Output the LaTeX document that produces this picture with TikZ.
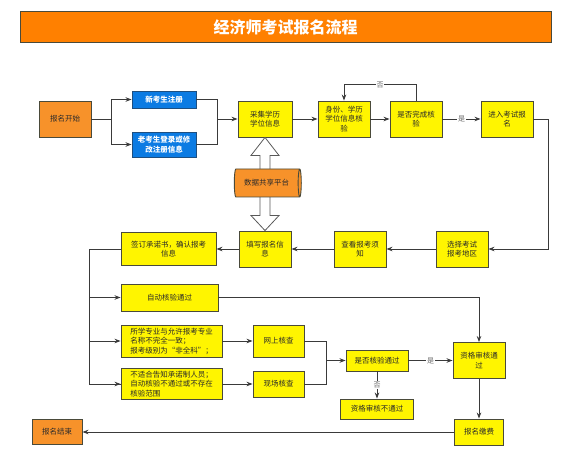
\documentclass[tikz,border=0pt]{standalone}
\usepackage{fontspec}
\newfontfamily\cjk{Noto Sans CJK SC}
\usetikzlibrary{arrows.meta,shapes.geometric,calc}
\definecolor{boxyellow}{HTML}{FFF500}
\definecolor{bordercol}{HTML}{4A4A3A}
\definecolor{orangebox}{HTML}{F7922A}
\definecolor{titleorange}{HTML}{FF8000}
\definecolor{bluebox}{HTML}{0B7BE3}
\definecolor{blueborder}{HTML}{1E4F80}
\definecolor{linecol}{HTML}{3A3A3A}
\definecolor{textcol}{HTML}{2A2A2A}
\begin{document}
\begin{tikzpicture}[x=1pt,y=-1pt,
  sz/.style 2 args={minimum width=#1pt, minimum height=#2pt},
  basebox/.style={draw=bordercol, line width=0.9pt, inner sep=1pt, align=center,
    font=\cjk\fontsize{7.5}{9.5}\selectfont, text=textcol},
  ybox/.style={basebox, fill=boxyellow},
  obox/.style={basebox, fill=orangebox},
  bbox/.style={basebox, fill=bluebox, draw=blueborder, text=white, font=\cjk\bfseries\fontsize{7.5}{9.5}\selectfont},
  titlebox/.style={draw=bordercol, line width=1pt, fill=titleorange, text=white, font=\cjk\bfseries\fontsize{16}{18}\selectfont},
  cyl/.style={cylinder, shape border rotate=0, aspect=0.35, draw=bordercol, line width=0.9pt,
    cylinder uses custom fill, cylinder body fill=orangebox, cylinder end fill=orangebox,
    font=\cjk\fontsize{7.5}{9.5}\selectfont, text=textcol, inner sep=1pt},
  conn/.style={draw=linecol, line width=0.8pt},
  arr/.style={conn, -{Stealth[length=6pt,width=4.5pt]}},
  lab/.style={fill=white, inner sep=0.8pt, text=gray!80!black, font=\cjk\fontsize{7}{8}\selectfont},
  hollow/.style={draw=gray!70!black, line width=0.8pt, fill=white}
]
\useasboundingbox (0,0) rectangle (571,449);

\node[titlebox, sz={531}{31}] (title) at (285.5,27.5) {经济师考试报名流程};

\node[obox, sz={52}{36}] (start) at (65,119) {报名开始};
\node[bbox, sz={64}{17}] (new) at (164,99.5) {新考生注册};
\node[bbox, sz={64}{25}] (old) at (164,144.5) {老考生登录或修\\改注册信息};
\node[ybox, sz={54}{36}] (collect) at (265,119) {采集学历\\学位信息};
\node[ybox, sz={52}{36}] (verify) at (344,119) {身份、学历\\学位信息核\\验};
\node[ybox, sz={52}{36}] (done) at (416,119) {是否完成核\\验};
\node[ybox, sz={52}{36}] (enter) at (507,119) {进入考试报\\名};

\node[ybox, sz={52}{36}] (region) at (462,249) {选择考试\\报考地区};
\node[ybox, sz={52}{36}] (notice) at (360,249) {查看报考须\\知};
\node[ybox, sz={52}{36}] (fill) at (265,249) {填写报名信\\息};
\node[ybox, sz={95}{33}] (sign) at (168.5,249) {签订承诺书，确认报考\\信息};

\node[ybox, sz={97}{27}] (auto) at (169.5,297.5) {自动核验通过};
\node[ybox, sz={101}{32}, align=left] (major) at (171.5,341) {所学专业与允许报考专业\\名称不完全一致；\\报考级别为“非全科”；};
\node[ybox, sz={101}{31}, align=left] (unfit) at (171.5,384) {不适合告知承诺制人员；\\自动核验不通过或不存在\\核验范围};
\node[ybox, sz={51}{32}] (online) at (278.5,341) {网上核查};
\node[ybox, sz={51}{26}] (onsite) at (278.5,384) {现场核查};

\node[ybox, sz={62}{21}] (check) at (377,360.5) {是否核验通过};
\node[ybox, sz={52}{36}] (pass) at (479,360.5) {资格审核通\\过};
\node[ybox, sz={73}{20}] (fail) at (377,409) {资格审核不通过};
\node[ybox, sz={49}{26}] (pay) at (479,432) {报名缴费};
\node[obox, sz={50}{25}] (end) at (57,432) {报名结束};

% hollow double arrow between collect and fill, behind the cylinder
\draw[hollow] (collect.south) -- ++(14,18) -- ++(-9,0) -- ($(fill.north)+(5,-15)$)
  -- ++(9,0) -- (fill.north) -- ++(-14,-15) -- ++(9,0) -- ($(collect.south)+(-5,18)$)
  -- ++(-9,0) -- cycle;
\node[cyl, minimum width=28pt, minimum height=67pt] (share) at (266.5,183) {数据共享平台};

% top row
\coordinate (fk1) at (111,119);
\draw[conn] (start.east) -- (fk1);
\draw[arr] (fk1) |- (new.west);
\draw[arr] (fk1) |- (old.west);
\coordinate (mg1) at (217,119);
\draw[conn] (new.east) -| (mg1);
\draw[conn] (old.east) -| (mg1);
\draw[arr] (mg1) -- (collect.west);
\draw[arr] (collect) -- (verify);
\draw[arr] (verify) -- (done);
\draw[arr] (done.north) -- ++(0,-16) -| node[pos=0.25, lab] {否} (verify.north);
\draw[arr] (done) -- node[lab] {是} (enter);
\draw[arr] (enter.east) -- ++(15,0) |- (region.east);

% second row
\draw[arr] (region) -- (notice);
\draw[arr] (notice) -- (fill);
\draw[arr] (fill) -- (sign);

% left bus
\draw[conn] (sign.west) -- ++(-31,0) |- (unfit.west);
\draw[arr] (sign.west) -- ++(-31,0) |- (auto.west);
\draw[arr] (sign.west) -- ++(-31,0) |- (major.west);
\draw[arr] (sign.west) -- ++(-31,0) |- (unfit.west);

\draw[arr] (auto.east) -| (pass.north);
\draw[arr] (major) -- (online);
\draw[arr] (unfit) -- (onsite);
\coordinate (mg2) at (326,360.5);
\draw[conn] (online.east) -| (mg2);
\draw[conn] (onsite.east) -| (mg2);
\draw[arr] (mg2) -- (check.west);
\draw[arr] (check) -- node[lab] {是} (pass);
\draw[arr] (check.south) -- node[lab] {否} (fail.north);
\draw[arr] (pass) -- (pay);
\draw[arr] (pay) -- (end);
\end{tikzpicture}
\end{document}
